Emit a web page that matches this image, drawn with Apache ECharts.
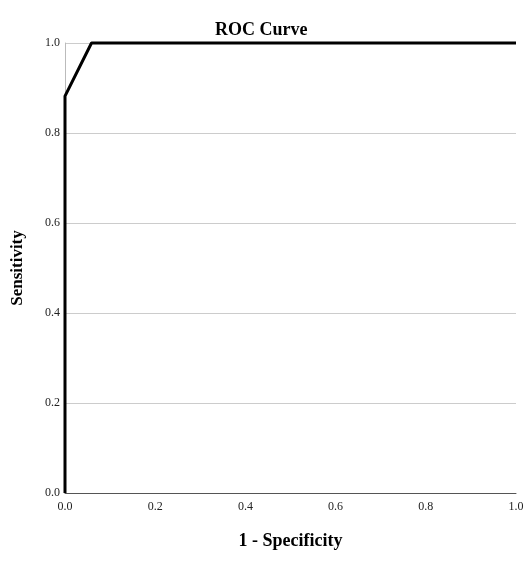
<!DOCTYPE html>
<html>
<head>
<meta charset="utf-8">
<script src="https://cdn.jsdelivr.net/npm/echarts@6/dist/echarts.min.js"></script>
<style>html,body{margin:0;padding:0;background:#fff}#c{width:530px;height:561px}</style>
</head>
<body>
<div id="c"></div>
<script>
var fpr = [0, 0, 0.0588, 1];
var tpr = [0, 0.882, 1, 1];
var xTicks = ['0.0','0.2','0.4','0.6','0.8','1.0'];
var yTicks = ['0.0','0.2','0.4','0.6','0.8','1.0'];
var titleText = 'ROC Curve';
var xName = '1 - Specificity';
var yName = 'Sensitivity';

var font = '"Liberation Serif", "DejaVu Serif", serif';
var chart = echarts.init(document.getElementById('c'), null, {renderer: 'canvas'});
chart.setOption({
  animation: false,
  title: {
    text: titleText, left: 210, top: 16,
    textStyle: {fontFamily: font, fontSize: 18, fontWeight: 'bold', color: '#000'}
  },
  grid: {left: 65, right: 14, top: 43, bottom: 68, containLabel: false, outerBoundsMode: 'none'},
  xAxis: {
    type: 'value', min: 0, max: 1, interval: 0.2,
    name: xName, nameLocation: 'middle', nameGap: 39,
    nameTextStyle: {fontFamily: font, fontSize: 18, fontWeight: 'bold', color: '#000'},
    axisLine: {show: true, lineStyle: {color: '#555', width: 1}},
    axisTick: {show: false},
    splitLine: {show: false},
    axisLabel: {
      fontFamily: font, fontSize: 12, color: '#222', margin: 8,
      formatter: function (v) { return xTicks[Math.round(v / 0.2)]; }
    }
  },
  yAxis: {
    type: 'value', min: 0, max: 1, interval: 0.2,
    name: yName, nameLocation: 'middle', nameGap: 39, nameRotate: 90,
    nameTextStyle: {fontFamily: font, fontSize: 17, fontWeight: 'bold', color: '#000'},
    axisLine: {show: true, lineStyle: {color: '#bbb', width: 1}},
    axisTick: {show: false},
    splitLine: {show: true, lineStyle: {color: '#ccc', width: 1}},
    axisLabel: {
      fontFamily: font, fontSize: 12, color: '#222', margin: 5,
      formatter: function (v) { return yTicks[Math.round(v / 0.2)]; }
    }
  },
  series: [{
    type: 'line',
    data: fpr.map(function (x, i) { return [x, tpr[i]]; }),
    symbol: 'none',
    lineStyle: {color: '#000', width: 3},
    clip: false
  }]
});
</script>
</body>
</html>
